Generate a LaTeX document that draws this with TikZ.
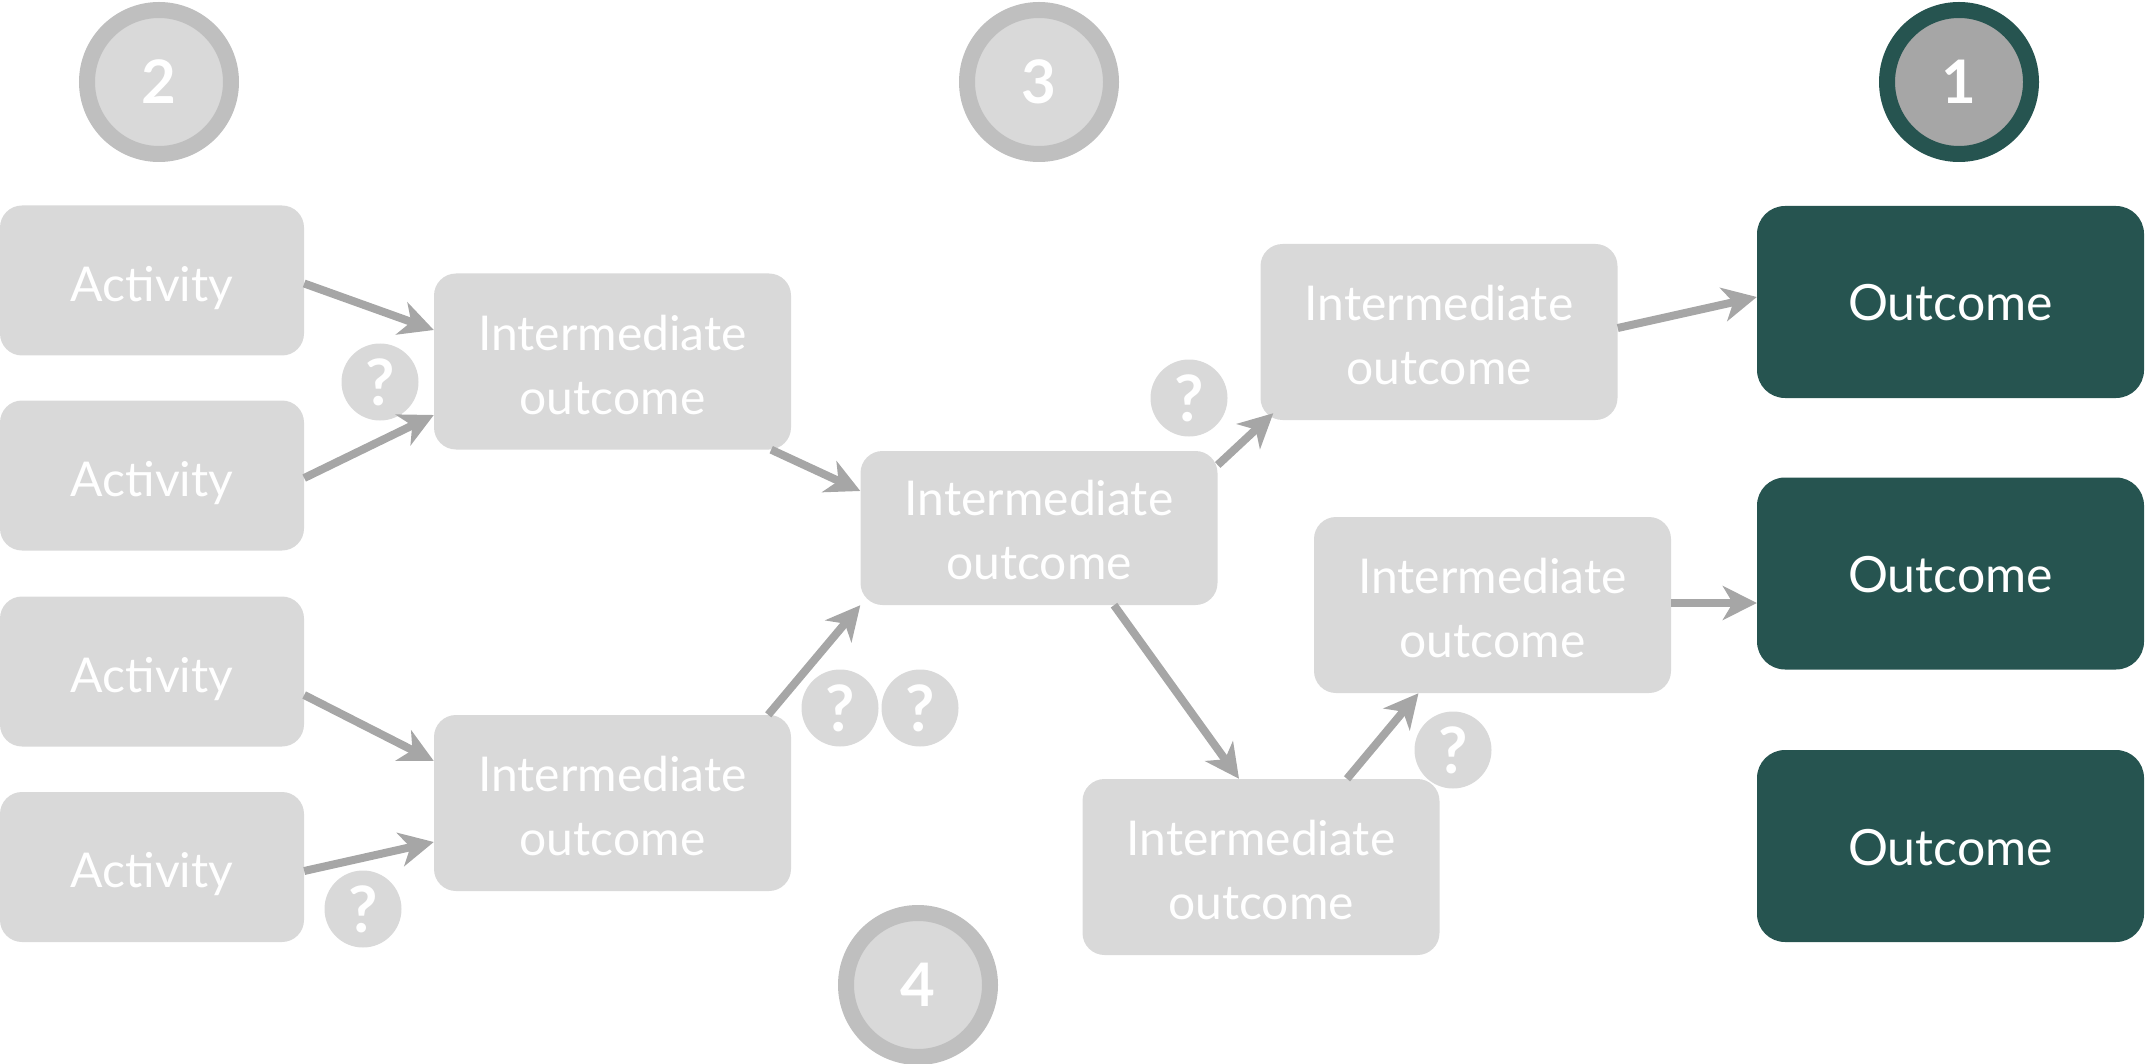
\documentclass[tikz,border=0pt]{standalone}
\usepackage{fontspec}
\setmainfont{Lato}
\usetikzlibrary{arrows.meta}
\definecolor{boxgray}{HTML}{D9D9D9}
\definecolor{arrowgray}{HTML}{A6A6A6}
\definecolor{ringgray}{HTML}{BFBFBF}
\definecolor{teal}{RGB}{38,84,80}
% text lowered inside its box without changing the box's size
\newcommand\lowtext[2]{\raisebox{-#1}[\height][\depth]{\begin{tabular}{@{}c@{}}#2\end{tabular}}}
\tikzset{
  graybox/.style={rectangle, fill=boxgray, rounded corners=22pt, text=white,
    inner sep=0pt, font=\fontsize{48}{64}\selectfont},
  actbox/.style={graybox, minimum width=304pt, minimum height=150pt},
  midbox/.style={graybox, minimum width=357pt, minimum height=176pt},
  outbox/.style={rectangle, fill=teal, rounded corners=28pt, text=white,
    inner sep=0pt, minimum width=387pt, minimum height=192pt,
    font=\fontsize{50}{60}\selectfont},
  stepring/.style={circle, fill=boxgray, draw=ringgray, line width=16pt,
    minimum size=144pt, inner sep=0pt, text=white,
    font=\fontsize{60}{60}\selectfont\bfseries},
  mainring/.style={stepring, fill=arrowgray, draw=teal},
  qmark/.style={circle, fill=boxgray, minimum size=77pt, inner sep=0pt,
    text=white, font=\fontsize{64}{64}\selectfont\bfseries},
  link/.style={draw=arrowgray, line width=8pt,
    -{Stealth[length=34pt, width=34pt, inset=10pt]}},
}
\begin{document}
\begin{tikzpicture}[x=1pt, y=-1pt]
\useasboundingbox (0,0) rectangle (2146,1064);

% step markers
\node[stepring] (s2) at (159,82) {2};
\node[stepring] (s3) at (1039,82) {3};
\node[mainring] (s1) at (1959,82) {1};
\node[stepring] (s4) at (918,985) {4};

% activities
\node[actbox] (act1) at (152,280.5) {\lowtext{8pt}{Activity}};
\node[actbox] (act2) at (152,475.5) {\lowtext{8pt}{Activity}};
\node[actbox] (act3) at (152,671.5) {\lowtext{8pt}{Activity}};
\node[actbox] (act4) at (152,867) {\lowtext{8pt}{Activity}};

% intermediate outcomes
\node[midbox] (intA) at (612.5,361.5) {\lowtext{8pt}{Intermediate\\outcome}};
\node[midbox] (intB) at (612.5,803) {\lowtext{8pt}{Intermediate\\outcome}};
\node[midbox, minimum height=154pt] (intC) at (1039,528) {\lowtext{7pt}{Intermediate\\outcome}};
\node[midbox] (intD) at (1439,332) {\lowtext{8pt}{Intermediate\\outcome}};
\node[midbox] (intE) at (1492.5,605) {\lowtext{8pt}{Intermediate\\outcome}};
\node[midbox] (intF) at (1261,867) {\lowtext{8pt}{Intermediate\\outcome}};

% outcomes
\node[outbox] (out1) at (1950.5,302) {\lowtext{7pt}{Outcome}};
\node[outbox] (out2) at (1950.5,573.5) {\lowtext{7pt}{Outcome}};
\node[outbox] (out3) at (1950.5,846) {\lowtext{7pt}{Outcome}};

% open questions
\node[qmark] (q1) at (380,382) {?};
\node[qmark] (q2) at (1189,398) {?};
\node[qmark] (q3) at (840,708) {?};
\node[qmark] (q4) at (920,708) {?};
\node[qmark] (q5) at (363,909) {?};
\node[qmark] (q6) at (1453,750) {?};

% causal links
\draw[link] ([yshift=-3pt]act1.east) -- ([yshift=31.5pt]intA.west);
\draw[link] ([yshift=-2.5pt]act2.east) -- ([yshift=-53.5pt]intA.west);
\draw[link] ([xshift=-20pt]intA.south east) -- ([yshift=37pt]intC.west);
\draw[link] ([yshift=-23.5pt]act3.east) -- ([yshift=42pt]intB.west);
\draw[link] ([yshift=-4pt]act4.east) -- ([yshift=-39pt]intB.west);
\draw[link] ([xshift=-23pt]intB.north east) -- (intC.south west);
\draw[link] ([yshift=63pt]intC.east) -- ([xshift=13pt,yshift=7pt]intD.south west);
\draw[link] ([xshift=75pt]intC.south) -- ([xshift=-22pt]intF.north);
\draw[link] ([xshift=86pt]intF.north) -- ([xshift=-74pt]intE.south);
\draw[link] ([yshift=4pt]intD.east) -- ([yshift=5pt]out1.west);
\draw[link] ([yshift=2pt]intE.east) -- ([yshift=-29.5pt]out2.west);
\end{tikzpicture}
\end{document}
